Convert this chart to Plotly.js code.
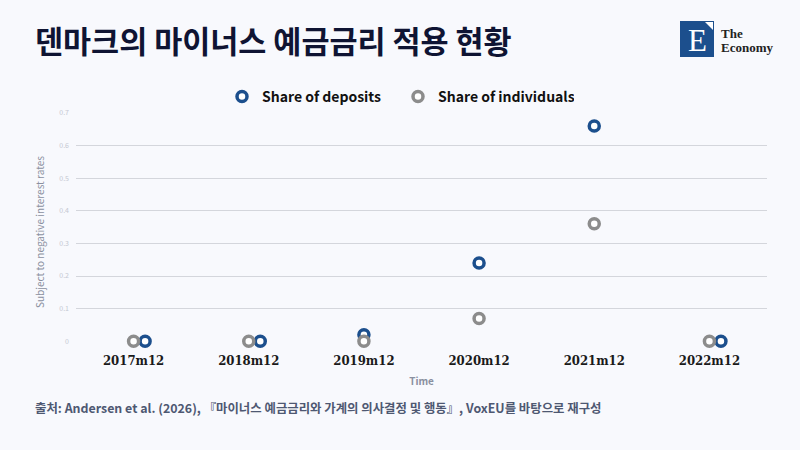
<!DOCTYPE html>
<html>
<head>
<meta charset="utf-8">
<script src="https://cdn.plot.ly/plotly-3.0.1.min.js"></script>
<style>
  html, body { margin: 0; padding: 0; background: #f8f9fd; }
  #chart { width: 800px; height: 450px; }
</style>
</head>
<body>
<div id="chart"></div>
<script>
// categories and series
var periods = ['2017m12', '2018m12', '2019m12', '2020m12', '2021m12', '2022m12']
var shareDeposits = [0, 0, 0.02, 0.24, 0.66, 0]
var shareIndividuals = [0, 0, 0, 0.07, 0.36, 0]
var yTicks = [0, 0.1, 0.2, 0.3, 0.4, 0.5, 0.6, 0.7]

var blue = '#1c4f8d'
var grey = '#8c8c8c'
var bg = '#f8f9fd'
var kr = '"Noto Sans CJK KR", "Noto Sans", sans-serif'

// plot box in pixels, used to put the header and logo in paper coords
var L = 76, W = 691, B = 351, H = 238
function px(x) { return (x - L) / W }
function py(y) { return (B - y) / H }

// markers that sit on top of each other get nudged sideways, like the original
var xIdx = periods.map(function (p, i) { return i })
var xDep = xIdx.map(function (i) {
    return shareDeposits[i] === shareIndividuals[i] ? i + 0.1 : i
})

var trace1 = {
    x: xDep,
    y: shareDeposits,
    type: 'scatter',
    mode: 'markers',
    name: 'Share of deposits',
    marker: { symbol: 'circle', size: 10, color: '#ffffff', line: { color: blue, width: 3.5 } },
    cliponaxis: false
}

var trace2 = {
    x: xIdx,
    y: shareIndividuals,
    type: 'scatter',
    mode: 'markers',
    name: 'Share of individuals',
    marker: { symbol: 'circle', size: 10, color: '#ffffff', line: { color: grey, width: 3.5 } },
    cliponaxis: false
}

var layout = {
    width: 800,
    height: 450,
    paper_bgcolor: bg,
    plot_bgcolor: bg,
    margin: { l: 76, r: 33, t: 113, b: 99 },
    showlegend: true,
    legend: {
        orientation: 'h',
        x: px(222), xanchor: 'left',
        y: 1.0, yanchor: 'bottom',
        font: { family: kr, size: 14, color: '#111111', weight: 'bold' },
        itemwidth: 30,
        entrywidth: 131,
        traceorder: 'normal',
        bgcolor: 'rgba(0,0,0,0)'
    },
    xaxis: {
        range: [-0.5, 5.5],
        tickvals: xIdx,
        ticktext: periods,
        showgrid: false,
        zeroline: false,
        showline: false,
        ticks: '',
        tickfont: { family: '"DejaVu Serif Condensed", "DejaVu Serif", serif', size: 13, color: '#1a1a1a', weight: 'bold' },
        title: { text: 'Time', font: { family: kr, size: 10, color: '#8a90a0', weight: 'bold' }, standoff: 10 }
    },
    yaxis: {
        range: [-0.03, 0.7],
        tickvals: yTicks,
        ticktext: yTicks.map(function (v) { return String(v) }),
        showgrid: true,
        gridcolor: '#d4d6dc',
        gridwidth: 1,
        zeroline: true,
        zerolinecolor: bg,
        zerolinewidth: 2,
        showline: false,
        ticks: '',
        tickfont: { family: kr, size: 7, color: '#c4c8d2' },
        ticklabelstandoff: 6,
        title: { text: 'Subject to negative interest rates', font: { family: kr, size: 10, color: '#8a90a0' }, standoff: 12 }
    },
    shapes: [
        {
            type: 'line', xref: 'paper', yref: 'y', x0: 0, x1: 1, y0: 0, y1: 0,
            line: { color: '#8c8f98', width: 1, dash: '4px,3px' },
            layer: 'between'
        },
        // logo block
        {
            type: 'rect', xref: 'paper', yref: 'paper',
            x0: px(680), x1: px(714), y0: py(57), y1: py(21),
            fillcolor: '#1c4f8d', line: { width: 0 }, layer: 'above'
        },
        {
            type: 'path', xref: 'paper', yref: 'paper',
            path: 'M ' + px(705) + ' ' + py(22) +
                  ' L ' + px(713) + ' ' + py(22) +
                  ' L ' + px(713) + ' ' + py(30) + ' Z',
            fillcolor: '#ffffff', line: { width: 0 }, layer: 'above'
        }
    ],
    annotations: [
        {
            text: '덴마크의 마이너스 예금금리 적용 현황',
            xref: 'paper', yref: 'paper', x: px(33), y: py(40),
            xanchor: 'left', yanchor: 'middle', showarrow: false,
            font: { family: kr, size: 30.5, color: '#0f1433', weight: 'bold' }
        },
        {
            text: 'E',
            xref: 'paper', yref: 'paper', x: px(697), y: py(40),
            xanchor: 'center', yanchor: 'middle', showarrow: false,
            font: { family: '"Liberation Serif", serif', size: 31, color: '#ffffff' }
        },
        {
            text: 'The',
            xref: 'paper', yref: 'paper', x: px(719), y: py(33),
            xanchor: 'left', yanchor: 'middle', showarrow: false,
            font: { family: '"Liberation Serif", serif', size: 13, color: '#222222', weight: 'bold' }
        },
        {
            text: 'Economy',
            xref: 'paper', yref: 'paper', x: px(719), y: py(47),
            xanchor: 'left', yanchor: 'middle', showarrow: false,
            font: { family: '"Liberation Serif", serif', size: 13, color: '#222222', weight: 'bold' }
        },
        {
            text: '출처: Andersen et al. (2026), 『마이너스 예금금리와 가계의 의사결정 및 행동』, VoxEU를 바탕으로 재구성',
            xref: 'paper', yref: 'paper', x: px(33), y: py(408),
            xanchor: 'left', yanchor: 'middle', showarrow: false,
            font: { family: kr, size: 12.4, color: '#4e5872', weight: 'bold' }
        }
    ]
}

Plotly.newPlot('chart', [trace1, trace2], layout, { displayModeBar: false, staticPlot: true })
</script>
</body>
</html>
